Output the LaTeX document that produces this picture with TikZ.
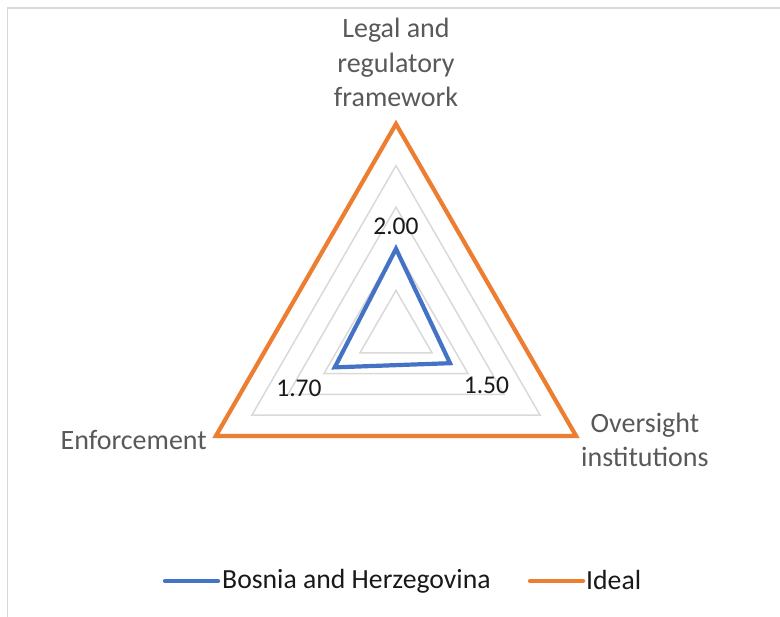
\documentclass[tikz,border=0pt]{standalone}
\usepackage{fontspec}
\setmainfont{Carlito}
\usetikzlibrary{positioning}
\definecolor{bihblue}{RGB}{68,114,196}
\definecolor{idealorange}{RGB}{237,125,49}
\definecolor{gridgray}{RGB}{217,217,217}
\definecolor{labelgray}{RGB}{89,89,89}

\begin{document}
\begin{tikzpicture}[x=1pt, y=1pt,
    gridline/.style={draw=gridgray, line width=1.5pt},
    axislabel/.style={font=\fontsize{28}{34.5}\selectfont, text=labelgray, align=center, inner sep=0pt},
    datalabel/.style={font=\fontsize{25.5}{30}\selectfont, text=black!90, inner sep=0pt},
    legendtext/.style={font=\fontsize{27.7}{32}\selectfont, text=black!90, inner sep=0pt}]
    \useasboundingbox (-396,-285) rectangle (384,332);
    % chart frame
    \draw[gridgray, line width=1.5pt] (-388.5,-285) |- (384,324);
    
    % grid rings
    \foreach \r in {1,...,4}
        \draw[gridline] (90:41.6*\r) -- (210:41.6*\r) -- (330:41.6*\r) -- cycle;
    
    % Ideal
    \coordinate (ilegal) at (90:208);
    \coordinate (ienf) at (210:208);
    \coordinate (iover) at (330:208);
    \draw[idealorange, line width=4.2pt] (ilegal) -- (ienf) -- (iover) -- cycle;
    
    % Bosnia and Herzegovina
    \coordinate (blegal) at (90:83.2);
    \coordinate (benf) at (210:70.72);
    \coordinate (bover) at (330:62.4);
    \draw[bihblue, line width=4.2pt] (blegal) -- (benf) -- (bover) -- cycle;
    
    % data labels
    \node[datalabel] (vlegal) at (0,106) {2.00};
    \node[datalabel] (venf) at (-97,-56) {1.70};
    \node[datalabel] (vover) at (90.5,-53) {1.50};
    
    % axis labels
    \node[axislabel] (alegal) at (0,269.5) {Legal and\\regulatory\\framework};
    \node[axislabel, anchor=east] (aenf) at (-189,-108) {Enforcement};
    \node[axislabel, anchor=west] (aover) at (185,-108) {Oversight\\institutions};
    
    % legend
    \coordinate (lb1) at (-231,-249);
    \coordinate (lb2) at (-178,-249);
    \draw[bihblue, line width=4.2pt, line cap=round] (lb1) -- (lb2);
    \node[legendtext, right=4pt of lb2] (lbih) {Bosnia and Herzegovina};
    \coordinate (lo1) at (134,-249);
    \coordinate (lo2) at (187,-249);
    \draw[idealorange, line width=4.2pt, line cap=round] (lo1) -- (lo2);
    \node[legendtext, right=3pt of lo2, yshift=1.5pt] (lideal) {Ideal};
\end{tikzpicture}
\end{document}
